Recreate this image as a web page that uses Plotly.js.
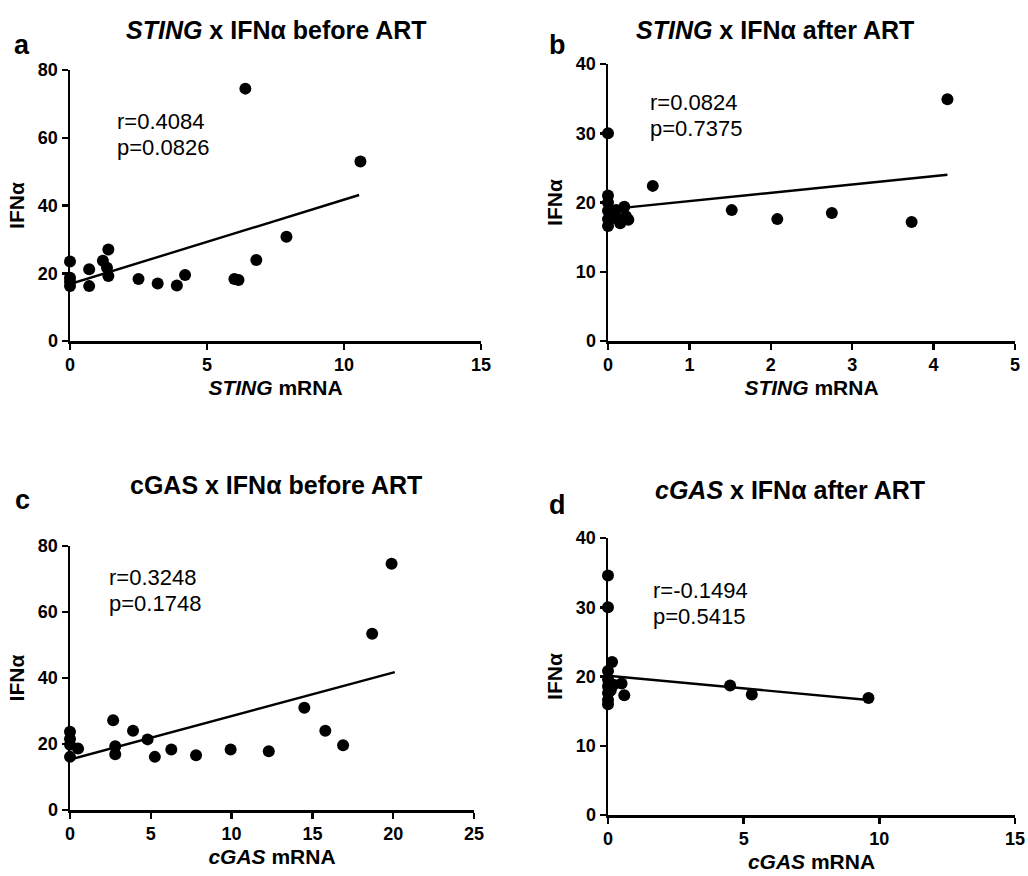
<!DOCTYPE html>
<html>
<head>
<meta charset="utf-8">
<script src="https://cdn.plot.ly/plotly-3.0.1.min.js"></script>
<style>html,body{margin:0;padding:0;background:#fff;}#chart{width:1028px;height:876px;}</style>
</head>
<body>
<div id="chart"></div>
<script>
// Panel a: STING x IFNα before ART
var stingBeforeX = [0, 0, 0, 0, 0.7, 0.7, 1.2, 1.4, 1.35, 1.4, 2.5, 3.2, 3.9, 4.2, 6.0, 6.15, 6.4, 6.8, 7.9, 10.6];
var stingBeforeY = [23.5, 18.7, 17.5, 16.2, 21.2, 16.2, 23.7, 27.0, 21.6, 19.2, 18.3, 17.0, 16.4, 19.5, 18.3, 18.0, 74.5, 23.9, 30.8, 53.0];
var fitAX = [0, 10.55];
var fitAY = [16.8, 43.1];

// Panel b: STING x IFNα after ART
var stingAfterX = [0, 0, 0, 0, 0, 0, 0.05, 0.1, 0.1, 0.15, 0.2, 0.22, 0.25, 0.55, 1.52, 2.08, 2.75, 3.73, 4.17];
var stingAfterY = [30.0, 21.0, 20.0, 18.8, 17.6, 16.6, 18.2, 18.9, 17.7, 17.0, 19.4, 18.0, 17.5, 22.4, 18.9, 17.6, 18.5, 17.2, 34.9];
var fitBX = [0, 4.17];
var fitBY = [19.0, 24.0];

// Panel c: cGAS x IFNα before ART
var cgasBeforeX = [0, 0, 0, 0, 0.5, 2.67, 2.8, 2.8, 3.9, 4.8, 5.25, 6.27, 7.8, 9.94, 12.3, 14.5, 15.8, 16.9, 18.7, 19.9];
var cgasBeforeY = [23.7, 21.5, 19.8, 16.1, 18.6, 27.2, 19.3, 16.9, 24.0, 21.4, 16.1, 18.3, 16.6, 18.3, 17.8, 31.0, 24.0, 19.6, 53.4, 74.6];
var fitCX = [0, 20.1];
var fitCY = [15.3, 41.8];

// Panel d: cGAS x IFNα after ART
var cgasAfterX = [0, 0, 0, 0, 0, 0, 0, 0, 0.05, 0.1, 0.15, 0.2, 0.5, 0.6, 4.5, 5.3, 9.6];
var cgasAfterY = [34.6, 30.0, 20.8, 19.6, 18.6, 17.6, 16.6, 16.0, 17.8, 18.0, 22.1, 18.8, 19.0, 17.3, 18.7, 17.4, 16.9];
var fitDX = [0, 9.6];
var fitDY = [20.1, 16.6];

var titles = [
  '<b><i>STING</i> x IFNα before ART</b>',
  '<b><i>STING</i> x IFNα after ART</b>',
  '<b>cGAS x IFNα before ART</b>',
  '<b><i>cGAS</i> x IFNα after ART</b>'
];
var xTitles = ['<b><i>STING</i> mRNA</b>', '<b><i>STING</i> mRNA</b>', '<b><i>cGAS</i> mRNA</b>', '<b><i>cGAS</i> mRNA</b>'];
var panelLetters = ['a', 'b', 'c', 'd'];
var rTexts = ['r=0.4084', 'r=0.0824', 'r=0.3248', 'r=-0.1494'];
var pTexts = ['p=0.0826', 'p=0.7375', 'p=0.1748', 'p=0.5415'];

var W = 1028, H = 876;
var FONT = 'Liberation Sans, Arial, Helvetica, sans-serif';
function px(x) { return x / W; }
function py(y) { return 1 - y / H; }

// panel geometry in pixels: [left, right, top, bottom]
var boxes = [
  [70, 481, 70, 341],
  [608, 1015, 64, 341],
  [70, 474, 546, 810],
  [608, 1015, 538, 815]
];
var xRanges = [[0, 15], [0, 5], [0, 25], [0, 15]];
var yRanges = [[0, 80], [0, 40], [0, 80], [0, 40]];
var xDtick = [5, 1, 5, 5];
var yDtick = [20, 10, 20, 10];

var pts = [[stingBeforeX, stingBeforeY], [stingAfterX, stingAfterY], [cgasBeforeX, cgasBeforeY], [cgasAfterX, cgasAfterY]];
var fits = [[fitAX, fitAY], [fitBX, fitBY], [fitCX, fitCY], [fitDX, fitDY]];

var data = [];
var layout = {
  width: W, height: H,
  margin: {l: 0, r: 0, t: 0, b: 0},
  paper_bgcolor: '#fff', plot_bgcolor: '#fff',
  showlegend: false,
  font: {family: FONT, color: '#000'},
  annotations: []
};

for (var i = 0; i < 4; i++) {
  var xa = i === 0 ? 'x' : 'x' + (i + 1);
  var ya = i === 0 ? 'y' : 'y' + (i + 1);
  data.push({
    x: pts[i][0], y: pts[i][1], xaxis: xa, yaxis: ya,
    type: 'scatter', mode: 'markers', cliponaxis: false,
    marker: {color: '#000', size: 12}
  });
  data.push({
    x: fits[i][0], y: fits[i][1], xaxis: xa, yaxis: ya,
    type: 'scatter', mode: 'lines', cliponaxis: false,
    line: {color: '#000', width: 2.4}
  });
  var b = boxes[i];
  var xKey = i === 0 ? 'xaxis' : 'xaxis' + (i + 1);
  var yKey = i === 0 ? 'yaxis' : 'yaxis' + (i + 1);
  layout[xKey] = {
    domain: [px(b[0]), px(b[1])], anchor: ya,
    range: xRanges[i], dtick: xDtick[i], tick0: 0,
    showline: true, linecolor: '#000', linewidth: 2.5,
    ticks: 'outside', ticklen: 6, tickwidth: 2.5, tickcolor: '#000',
    showgrid: false, zeroline: false, fixedrange: true,
    tickfont: {family: FONT, size: 18, weight: 'bold', color: '#000'},
    title: {text: xTitles[i], font: {family: FONT, size: 21, color: '#000'}, standoff: 6}
  };
  layout[yKey] = {
    domain: [py(b[3]), py(b[2])], anchor: xa,
    range: yRanges[i], dtick: yDtick[i], tick0: 0,
    showline: true, linecolor: '#000', linewidth: 2.5,
    ticks: 'outside', ticklen: 6, tickwidth: 2.5, tickcolor: '#000',
    showgrid: false, zeroline: false, fixedrange: true,
    tickfont: {family: FONT, size: 18, weight: 'bold', color: '#000'},
    title: {text: '<b>IFNα</b>', font: {family: FONT, size: 21, color: '#000'}, standoff: 8}
  };
}

var titlePos = [[276, 30], [775, 30], [276, 485], [790, 490]];
var letterPos = [[22, 45], [557, 45], [22, 500], [557, 505]];
var rPos = [[115, 122], [648, 102], [107, 577], [651, 590]];
for (var j = 0; j < 4; j++) {
  layout.annotations.push({
    xref: 'paper', yref: 'paper', x: px(titlePos[j][0]), y: py(titlePos[j][1]),
    xanchor: 'center', yanchor: 'middle', showarrow: false,
    text: titles[j], font: {family: FONT, size: 25, color: '#000'}
  });
  layout.annotations.push({
    xref: 'paper', yref: 'paper', x: px(letterPos[j][0]), y: py(letterPos[j][1]),
    xanchor: 'center', yanchor: 'middle', showarrow: false,
    text: '<b>' + panelLetters[j] + '</b>', font: {family: FONT, size: 27, color: '#000'}
  });
  layout.annotations.push({
    xref: 'paper', yref: 'paper', x: px(rPos[j][0]), y: py(rPos[j][1]),
    xanchor: 'left', yanchor: 'middle', showarrow: false,
    text: rTexts[j], font: {family: FONT, size: 22, color: '#000'}
  });
  layout.annotations.push({
    xref: 'paper', yref: 'paper', x: px(rPos[j][0]), y: py(rPos[j][1] + 26),
    xanchor: 'left', yanchor: 'middle', showarrow: false,
    text: pTexts[j], font: {family: FONT, size: 22, color: '#000'}
  });
}

Plotly.newPlot('chart', data, layout, {displayModeBar: false, staticPlot: true});
</script>
</body>
</html>
